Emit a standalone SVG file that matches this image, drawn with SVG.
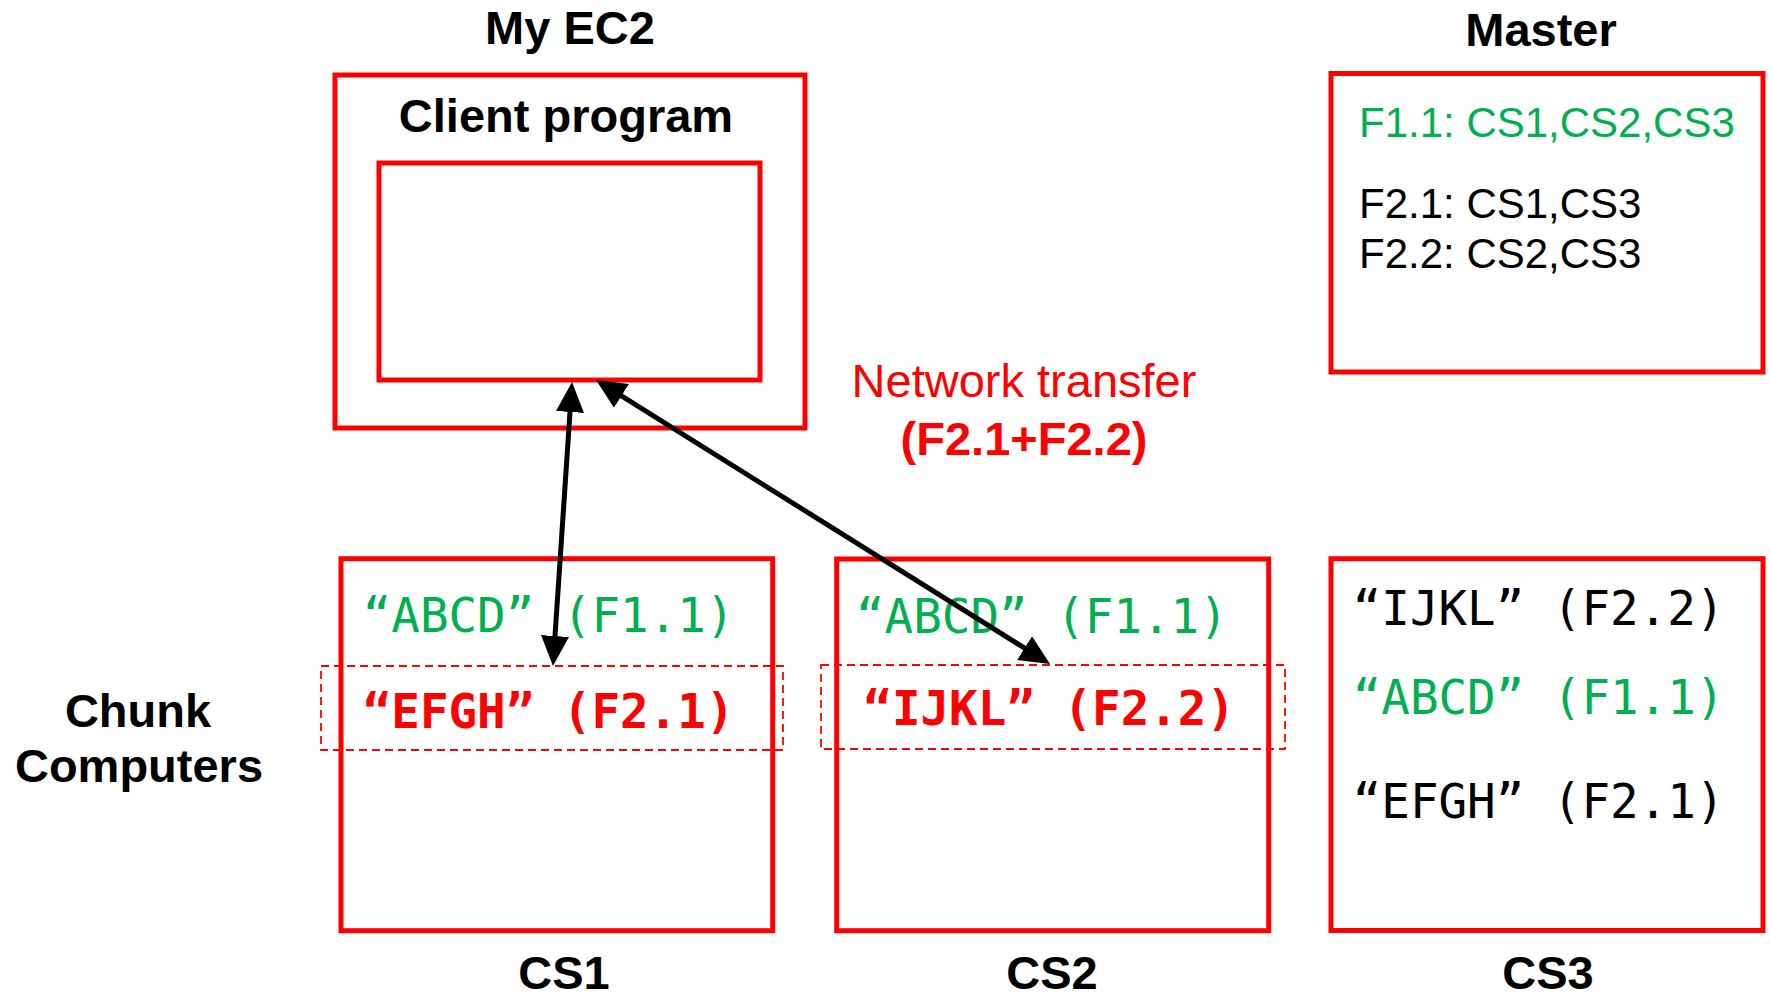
<svg xmlns="http://www.w3.org/2000/svg" width="1771" height="1000" viewBox="0 0 1771 1000">
<style>
.box{fill:none;stroke:#FF0000;stroke-width:5}
.dash{fill:none;stroke:#FF0000;stroke-width:1.8;stroke-dasharray:8,5}
.title{font-family:"Liberation Sans",Arial,sans-serif;font-weight:bold;font-size:47px;fill:#000;text-anchor:middle}
.sans{font-family:"Liberation Sans",Arial,sans-serif;font-size:42px}
.mono{font-family:"DejaVu Sans Mono","Liberation Mono",monospace;font-size:47.5px}
.green{fill:#00B050}
.red{fill:#FF0000}
.blk{fill:#000}
.conn{stroke:#000;stroke-width:5;fill:none}
</style>
<defs>
<marker id="ah" viewBox="0 0 30 28" refX="24" refY="14" markerWidth="30" markerHeight="28" markerUnits="userSpaceOnUse" orient="auto-start-reverse">
<path d="M0,0 L30,14 L0,28 z" fill="#000"/>
</marker>
</defs>
<rect width="1771" height="1000" fill="#fff"/>

<g id="ec2">
<text class="title" x="570" y="44">My EC2</text>
<rect class="box" x="335" y="75" width="470" height="353"/>
<text class="title" x="566" y="132">Client program</text>
</g>
<g id="client">
<rect class="box" x="379" y="163" width="381" height="217"/>
</g>

<g id="master">
<text class="title" x="1541" y="46">Master</text>
<rect class="box" x="1331" y="73.5" width="432" height="298.5"/>
<text class="sans green" x="1359" y="136.7">F1.1: CS1,CS2,CS3</text>
<text class="sans blk" x="1359" y="218.3">F2.1: CS1,CS3</text>
<text class="sans blk" x="1359" y="268.3">F2.2: CS2,CS3</text>
</g>

<g id="network-label">
<text x="1024" y="396.7" font-family="Liberation Sans, Arial, sans-serif" font-size="47" fill="#FF0000" text-anchor="middle">Network transfer</text>
<text x="1024" y="455" font-family="Liberation Sans, Arial, sans-serif" font-size="47" font-weight="bold" fill="#FF0000" text-anchor="middle">(F2.1+F2.2)</text>
</g>

<g id="chunk-label">
<text class="title" x="138" y="727">Chunk</text>
<text class="title" x="139" y="782">Computers</text>
</g>

<g id="cs1">
<rect class="box" x="341" y="558.7" width="431.7" height="372"/>
<rect class="dash" x="321" y="666" width="462" height="84"/>
<text class="mono green" x="362.7" y="631.7">“ABCD” (F1.1)</text>
<text class="mono red" font-weight="bold" x="362.7" y="728.3">“EFGH” (F2.1)</text>
<text class="title" x="564" y="989">CS1</text>
</g>

<g id="cs2">
<rect class="box" x="836.7" y="559" width="432" height="371.7"/>
<rect class="dash" x="821" y="665" width="464" height="84"/>
<text class="mono green" x="856" y="633">“ABCD” (F1.1)</text>
<text class="mono red" font-weight="bold" x="863.3" y="725">“IJKL” (F2.2)</text>
<text class="title" x="1052" y="989">CS2</text>
</g>

<g id="cs3">
<rect class="box" x="1331" y="558.7" width="432" height="371.8"/>
<text class="mono blk" x="1352.7" y="625">“IJKL” (F2.2)</text>
<text class="mono green" x="1352.7" y="714.3">“ABCD” (F1.1)</text>
<text class="mono blk" x="1352.7" y="817.7">“EFGH” (F2.1)</text>
<text class="title" x="1548" y="989">CS3</text>
</g>

<g id="connectors">
<line class="conn" x1="553.4" y1="660" x2="571.6" y2="388" marker-start="url(#ah)" marker-end="url(#ah)"/>
<line class="conn" x1="601.1" y1="383.2" x2="1044.9" y2="660.8" marker-start="url(#ah)" marker-end="url(#ah)"/>
</g>
</svg>
